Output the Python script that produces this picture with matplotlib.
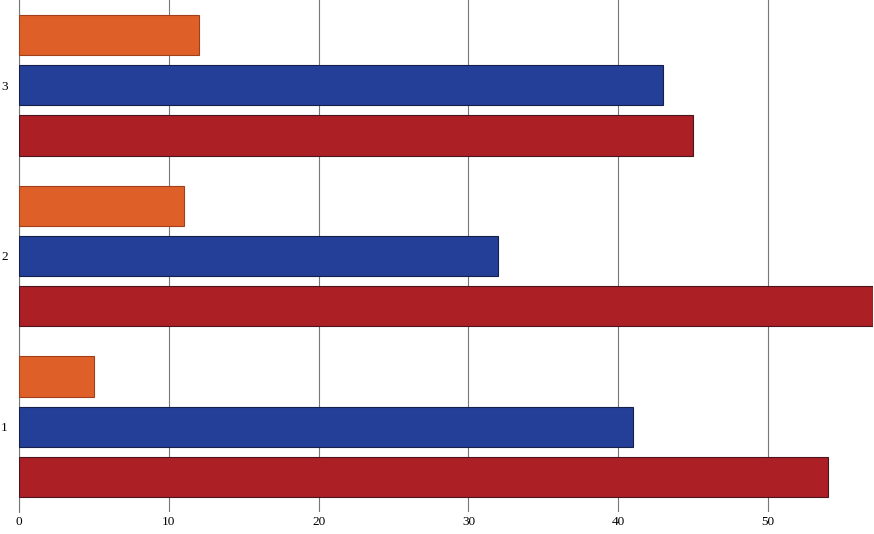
import numpy as np
import matplotlib
matplotlib.use("Agg")
import matplotlib.pyplot as plt

categories = ["1", "2", "3"]
red_vals = [54, 57, 45]
blue_vals = [41, 32, 43]
orange_vals = [5, 11, 12]
x_ticks = [0, 10, 20, 30, 40, 50]

plt.rcParams['font.family'] = ['Liberation Serif', 'DejaVu Serif']

fig = plt.figure(figsize=(8.74, 5.34), dpi=100)
ax = fig.add_axes([19 / 874, 22 / 534, 854 / 874, 512 / 534])

y = np.arange(1, len(categories) + 1)
step = 50 / 170
h = 40 / 170

ax.barh(y - step, red_vals, height=h, color='#AB1F25', edgecolor='#4a1420', linewidth=0.8, zorder=3)
ax.barh(y, blue_vals, height=h, color='#243F97', edgecolor='#14204a', linewidth=0.8, zorder=3)
ax.barh(y + step, orange_vals, height=h, color='#DF5F29', edgecolor='#a0401a', linewidth=0.8, zorder=3)

ax.set_xlim(0, 57)
ax.set_ylim(0.5, 3.5)
ax.set_yticks(y)
ax.set_yticklabels(categories, fontsize=9.5)
ax.set_xticks(x_ticks)
ax.set_xticklabels([str(t) for t in x_ticks], fontsize=9.5)
ax.xaxis.grid(True, color='#777777', linewidth=0.8, zorder=0)
ax.tick_params(axis='y', length=0, pad=8)
ax.tick_params(axis='x', length=0, pad=3)

for s in ['top', 'right', 'bottom']:
    ax.spines[s].set_visible(False)
ax.spines['left'].set_color('#777777')
ax.spines['left'].set_linewidth(0.8)

fig.savefig("out.png", dpi=100)
